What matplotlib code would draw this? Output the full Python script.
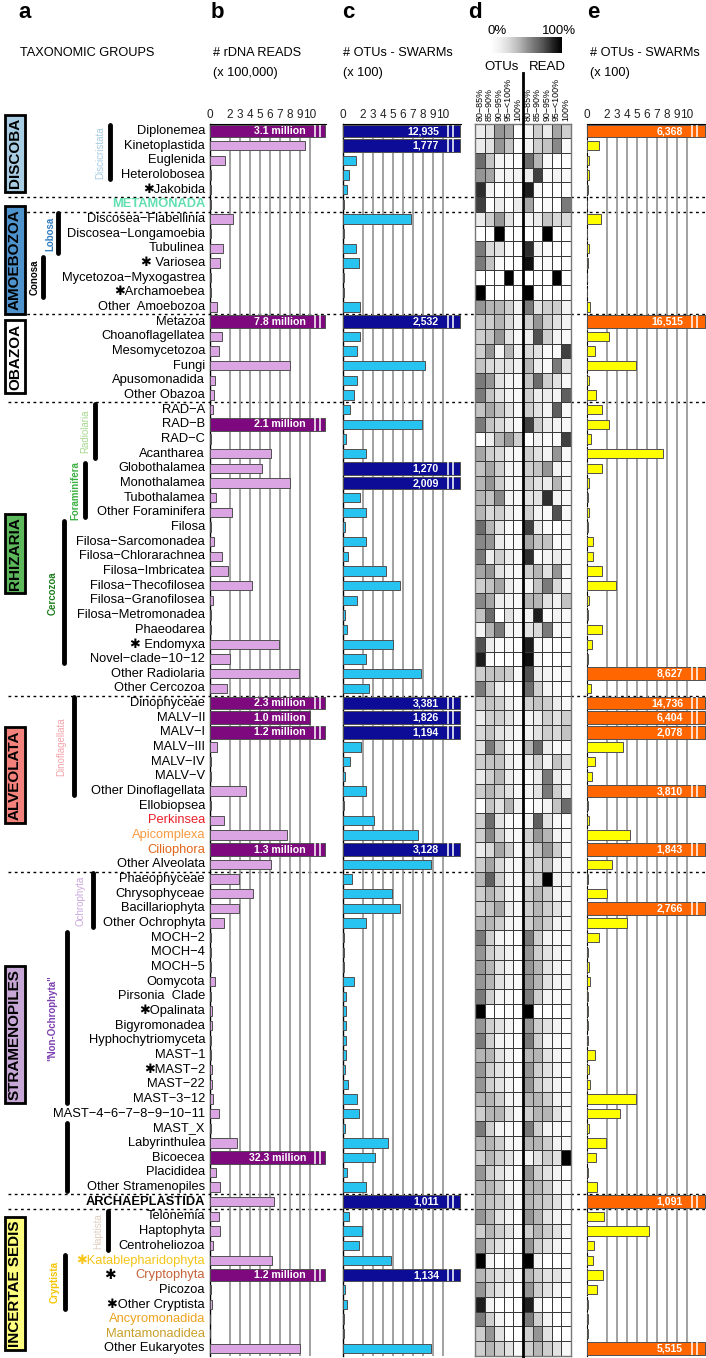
import matplotlib.pyplot as plt
import matplotlib.transforms as mtransforms
from matplotlib.lines import Line2D
import numpy as np

plt.rcParams['font.family'] = ['Liberation Sans', 'DejaVu Sans']

W, H = 706, 1358

# ---------------- data ----------------
taxa = ["Diplonemea", "Kinetoplastida", "Euglenida", "Heterolobosea", "✱Jakobida",
        "METAMONADA",
        "Discosea−Flabellinia", "Discosea−Longamoebia", "Tubulinea", "✱ Variosea",
        "Mycetozoa−Myxogastrea", "✱Archamoebea", "Other  Amoebozoa",
        "Metazoa", "Choanoflagellatea", "Mesomycetozoa", "Fungi", "Apusomonadida", "Other Obazoa",
        "RAD−A", "RAD−B", "RAD−C", "Acantharea", "Globothalamea", "Monothalamea", "Tubothalamea",
        "Other Foraminifera", "Filosa", "Filosa−Sarcomonadea", "Filosa−Chlorarachnea",
        "Filosa−Imbricatea", "Filosa−Thecofilosea", "Filosa−Granofilosea", "Filosa−Metromonadea",
        "Phaeodarea", "✱ Endomyxa", "Novel−clade−10−12", "Other Radiolaria", "Other Cercozoa",
        "Dinophyceae", "MALV−II", "MALV−I", "MALV−III", "MALV−IV", "MALV−V",
        "Other Dinoflagellata", "Ellobiopsea", "Perkinsea", "Apicomplexa", "Ciliophora",
        "Other Alveolata",
        "Phaeophyceae", "Chrysophyceae", "Bacillariophyta", "Other Ochrophyta", "MOCH−2",
        "MOCH−4", "MOCH−5", "Oomycota", "Pirsonia  Clade", "✱Opalinata", "Bigyromonadea",
        "Hyphochytriomyceta", "MAST−1", "✱MAST−2", "MAST−22", "MAST−3−12",
        "MAST−4−6−7−8−9−10−11", "MAST_X", "Labyrinthulea", "Bicoecea", "Placididea",
        "Other Stramenopiles",
        "ARCHAEPLASTIDA",
        "Telonemia", "Haptophyta", "Centroheliozoa", "✱Katablepharidophyta", "Cryptophyta",
        "Picozoa", "✱Other Cryptista", "Ancyromonadida", "Mantamonadidea", "Other Eukaryotes"]

# b: rDNA reads (x 100,000)
reads = [31.0, 9.5, 1.5, 0.1, 0.1, 0.1, 2.3, 0.1, 1.3, 1.0, 0.1, 0.1, 0.7,
         78.0, 1.2, 0.9, 8.0, 0.5, 0.4,
         0.3, 21.0, 0.1, 6.1, 5.2, 8.0, 0.6, 2.2, 0.1, 0.4, 1.2, 1.8, 4.2, 0.3, 0.1, 0.1,
         6.9, 2.0, 8.9, 1.7,
         23.0, 10.0, 12.0, 0.7, 0.1, 0.1, 3.6, 0.1, 1.4, 7.7, 13.0, 6.1,
         2.9, 4.3, 2.9, 1.4, 0.1, 0.1, 0.1, 0.5, 0.1, 0.25, 0.25, 0.15, 0.1, 0.25, 0.2,
         0.35, 0.9, 0.1, 2.7, 323.0, 0.65, 1.05,
         6.4,
         0.9, 1.0, 0.3, 6.2, 12.0, 0.1, 0.2, 0.05, 0.05, 9.0]

# c: OTUs - SWARMs (x 100)
otus_c = [129.35, 17.77, 1.3, 0.6, 0.4, 0.1, 6.8, 0.05, 1.3, 1.6, 0.05, 0.05, 1.7,
          25.32, 1.7, 1.4, 8.2, 1.4, 1.1,
          0.7, 7.9, 0.3, 2.3, 12.70, 20.09, 1.7, 2.3, 0.2, 2.3, 0.5, 4.3, 5.7, 1.4, 0.2, 0.4,
          5.0, 2.3, 7.8, 2.6,
          33.81, 18.26, 11.94, 1.8, 0.7, 0.2, 2.3, 0.1, 3.1, 7.5, 31.28, 8.8,
          0.9, 4.9, 5.7, 2.3, 0.1, 0.1, 0.1, 1.1, 0.3, 0.3, 0.3, 0.3, 0.3, 0.2, 0.5,
          1.4, 1.6, 0.2, 4.5, 3.2, 0.4, 2.3,
          10.11,
          0.6, 1.9, 1.6, 4.8, 11.34, 0.2, 0.4, 0.1, 0.1, 8.8]

# e: OTUs - SWARMs (x 100)
otus_e = [63.68, 1.2, 0.2, 0.2, 0.05, 0.0, 1.4, 0.0, 0.2, 0.05, 0.0, 0.0, 0.3,
          165.15, 2.2, 0.8, 4.9, 0.2, 0.9,
          1.5, 2.2, 0.4, 7.6, 1.5, 0.2, 0.05, 0.2, 0.05, 0.6, 0.6, 1.5, 2.9, 0.2, 0.05, 1.5,
          0.5, 0.05, 86.27, 0.4,
          147.36, 64.04, 20.78, 3.6, 0.8, 0.5, 38.10, 0.05, 0.2, 4.3, 18.43, 2.5,
          0.1, 2.0, 27.66, 4.0, 1.2, 0.1, 0.2, 0.3, 0.05, 0.05, 0.05, 0.05, 0.8, 0.2, 0.3,
          4.9, 3.3, 0.2, 1.9, 0.9, 0.1, 1.0,
          10.91,
          1.7, 6.2, 0.7, 0.6, 1.6, 1.0, 0.1, 0.05, 0.05, 55.15]

# d: share of OTUs / reads per identity bin (0-1)
id_bins = ["80−85%", "85−90%", "90−95%", "95−<100%", "100%"]
otu_share = [
    [0.15, 0.2, 0.5, 0.45, 0.0], [0.15, 0.2, 0.5, 0.35, 0.0], [0.65, 0.35, 0.1, 0.05, 0.0],
    [0.5, 0.45, 0.1, 0.1, 0.1], [0.85, 0.1, 0.0, 0.05, 0.0], [0.8, 0.0, 0.15, 0.0, 0.15],
    [0.15, 0.3, 0.5, 0.2, 0.0], [0.0, 0.0, 1.0, 0.0, 0.0], [0.6, 0.25, 0.2, 0.05, 0.0],
    [0.6, 0.35, 0.05, 0.0, 0.0], [0.0, 0.0, 0.0, 1.0, 0.0], [1.0, 0.0, 0.0, 0.0, 0.0],
    [0.5, 0.4, 0.4, 0.3, 0.1],
    [0.35, 0.3, 0.4, 0.25, 0.1], [0.3, 0.35, 0.5, 0.2, 0.05], [0.3, 0.5, 0.1, 0.4, 0.1],
    [0.35, 0.25, 0.2, 0.2, 0.1], [0.6, 0.5, 0.2, 0.1, 0.05], [0.6, 0.35, 0.2, 0.1, 0.05],
    [0.35, 0.45, 0.35, 0.2, 0.05], [0.6, 0.35, 0.25, 0.15, 0.05], [0.0, 0.15, 0.4, 0.5, 0.3],
    [0.45, 0.3, 0.25, 0.1, 0.05], [0.35, 0.45, 0.3, 0.1, 0.05], [0.4, 0.5, 0.3, 0.1, 0.05],
    [0.4, 0.35, 0.55, 0.1, 0.05], [0.4, 0.25, 0.3, 0.15, 0.05], [0.65, 0.4, 0.2, 0.05, 0.0],
    [0.55, 0.5, 0.15, 0.05, 0.05], [0.6, 0.15, 0.3, 0.15, 0.05], [0.45, 0.5, 0.2, 0.1, 0.05],
    [0.3, 0.35, 0.45, 0.15, 0.05], [0.55, 0.45, 0.15, 0.1, 0.05], [0.35, 0.65, 0.0, 0.2, 0.05],
    [0.1, 0.4, 0.6, 0.1, 0.05], [0.75, 0.15, 0.05, 0.05, 0.0], [0.9, 0.05, 0.0, 0.0, 0.0],
    [0.3, 0.35, 0.35, 0.3, 0.05], [0.6, 0.35, 0.15, 0.05, 0.0],
    [0.3, 0.35, 0.3, 0.15, 0.05], [0.15, 0.3, 0.3, 0.2, 0.05], [0.25, 0.35, 0.2, 0.15, 0.05],
    [0.2, 0.6, 0.35, 0.1, 0.05], [0.3, 0.35, 0.35, 0.15, 0.05], [0.15, 0.3, 0.4, 0.15, 0.05],
    [0.3, 0.4, 0.3, 0.2, 0.05], [0.0, 0.35, 0.2, 0.4, 0.1], [0.3, 0.65, 0.2, 0.05, 0.0],
    [0.3, 0.55, 0.3, 0.1, 0.05], [0.15, 0.25, 0.45, 0.3, 0.05], [0.3, 0.45, 0.25, 0.1, 0.05],
    [0.4, 0.7, 0.3, 0.1, 0.05], [0.3, 0.4, 0.3, 0.1, 0.05], [0.3, 0.35, 0.45, 0.15, 0.05],
    [0.4, 0.4, 0.3, 0.1, 0.05], [0.6, 0.3, 0.1, 0.05, 0.0], [0.5, 0.3, 0.2, 0.1, 0.0],
    [0.5, 0.4, 0.2, 0.1, 0.0], [0.5, 0.4, 0.2, 0.1, 0.05], [0.6, 0.3, 0.1, 0.05, 0.0],
    [1.0, 0.0, 0.0, 0.0, 0.0], [0.5, 0.3, 0.2, 0.1, 0.0], [0.6, 0.3, 0.1, 0.05, 0.0],
    [0.4, 0.4, 0.2, 0.1, 0.0], [0.5, 0.3, 0.2, 0.1, 0.0], [0.5, 0.3, 0.2, 0.1, 0.0],
    [0.4, 0.4, 0.3, 0.1, 0.05], [0.3, 0.4, 0.4, 0.2, 0.05], [0.6, 0.3, 0.1, 0.05, 0.0],
    [0.4, 0.4, 0.3, 0.1, 0.05], [0.3, 0.4, 0.3, 0.2, 0.05], [0.5, 0.3, 0.2, 0.1, 0.0],
    [0.4, 0.4, 0.3, 0.1, 0.05],
    [0.4, 0.35, 0.3, 0.2, 0.05],
    [0.5, 0.4, 0.2, 0.1, 0.0], [0.3, 0.4, 0.3, 0.2, 0.05], [0.5, 0.3, 0.2, 0.1, 0.0],
    [1.0, 0.1, 0.0, 0.0, 0.0], [0.4, 0.3, 0.2, 0.2, 0.05], [0.5, 0.3, 0.2, 0.1, 0.0],
    [0.9, 0.1, 0.0, 0.0, 0.0], [0.6, 0.3, 0.1, 0.0, 0.0], [0.3, 0.5, 0.2, 0.0, 0.0],
    [0.3, 0.4, 0.3, 0.2, 0.05]]
read_share = [
    [0.1, 0.3, 0.15, 0.45, 0.3], [0.1, 0.3, 0.35, 0.55, 0.05], [0.65, 0.4, 0.05, 0.0, 0.0],
    [0.15, 0.8, 0.05, 0.1, 0.05], [0.9, 0.05, 0.0, 0.0, 0.0], [0.45, 0.0, 0.05, 0.0, 0.6],
    [0.1, 0.15, 0.35, 0.25, 0.25], [0.0, 0.0, 1.0, 0.0, 0.0], [0.85, 0.1, 0.05, 0.0, 0.0],
    [0.95, 0.05, 0.05, 0.0, 0.0], [0.0, 0.0, 0.0, 1.0, 0.0], [1.0, 0.0, 0.0, 0.0, 0.0],
    [0.6, 0.2, 0.3, 0.3, 0.1],
    [0.3, 0.5, 0.3, 0.2, 0.1], [0.15, 0.75, 0.3, 0.1, 0.05], [0.25, 0.2, 0.05, 0.05, 0.8],
    [0.4, 0.15, 0.05, 0.6, 0.2], [0.35, 0.65, 0.3, 0.2, 0.05], [0.3, 0.15, 0.15, 0.1, 0.7],
    [0.3, 0.2, 0.1, 0.7, 0.05], [0.8, 0.3, 0.15, 0.1, 0.05], [0.0, 0.1, 0.05, 0.05, 0.8],
    [0.3, 0.2, 0.1, 0.5, 0.05], [0.3, 0.35, 0.5, 0.1, 0.05], [0.3, 0.2, 0.15, 0.4, 0.05],
    [0.2, 0.2, 0.85, 0.1, 0.05], [0.3, 0.1, 0.05, 0.75, 0.05], [0.8, 0.15, 0.05, 0.0, 0.05],
    [0.45, 0.35, 0.35, 0.05, 0.05], [0.85, 0.05, 0.1, 0.15, 0.05], [0.3, 0.4, 0.2, 0.5, 0.05],
    [0.1, 0.35, 0.6, 0.25, 0.05], [0.4, 0.4, 0.2, 0.1, 0.35], [0.1, 0.9, 0.05, 0.1, 0.05],
    [0.2, 0.25, 0.6, 0.05, 0.05], [0.9, 0.05, 0.05, 0.0, 0.0], [0.95, 0.05, 0.0, 0.0, 0.0],
    [0.75, 0.15, 0.1, 0.05, 0.05], [0.65, 0.3, 0.1, 0.05, 0.0],
    [0.3, 0.35, 0.3, 0.15, 0.05], [0.1, 0.15, 0.3, 0.2, 0.3], [0.1, 0.2, 0.3, 0.25, 0.35],
    [0.4, 0.65, 0.15, 0.05, 0.05], [0.15, 0.3, 0.1, 0.35, 0.2], [0.05, 0.15, 0.6, 0.15, 0.05],
    [0.1, 0.2, 0.6, 0.3, 0.1], [0.0, 0.05, 0.1, 0.35, 0.65], [0.1, 0.7, 0.2, 0.05, 0.0],
    [0.3, 0.5, 0.4, 0.1, 0.05], [0.2, 0.35, 0.5, 0.3, 0.05], [0.3, 0.25, 0.35, 0.1, 0.05],
    [0.2, 0.3, 1.0, 0.1, 0.05], [0.3, 0.4, 0.3, 0.1, 0.05], [0.3, 0.4, 0.3, 0.2, 0.05],
    [0.3, 0.4, 0.3, 0.1, 0.05], [0.6, 0.3, 0.1, 0.05, 0.0], [0.5, 0.3, 0.2, 0.1, 0.0],
    [0.5, 0.4, 0.2, 0.1, 0.0], [0.5, 0.4, 0.2, 0.1, 0.05], [0.6, 0.3, 0.1, 0.05, 0.0],
    [1.0, 0.0, 0.0, 0.0, 0.0], [0.5, 0.3, 0.2, 0.1, 0.0], [0.6, 0.3, 0.1, 0.05, 0.0],
    [0.4, 0.4, 0.2, 0.1, 0.0], [0.5, 0.3, 0.2, 0.1, 0.0], [0.5, 0.3, 0.2, 0.1, 0.0],
    [0.4, 0.4, 0.3, 0.1, 0.05], [0.3, 0.4, 0.4, 0.2, 0.05], [0.6, 0.3, 0.1, 0.05, 0.0],
    [0.4, 0.4, 0.3, 0.1, 0.05], [0.1, 0.2, 0.3, 0.2, 1.0], [0.5, 0.3, 0.2, 0.1, 0.0],
    [0.4, 0.4, 0.3, 0.1, 0.05],
    [0.4, 0.35, 0.3, 0.2, 0.05],
    [0.5, 0.4, 0.2, 0.1, 0.0], [0.3, 0.4, 0.3, 0.2, 0.05], [0.5, 0.3, 0.2, 0.1, 0.0],
    [1.0, 0.1, 0.0, 0.0, 0.0], [0.4, 0.3, 0.2, 0.2, 0.05], [0.5, 0.3, 0.2, 0.1, 0.0],
    [0.9, 0.1, 0.0, 0.0, 0.0], [0.6, 0.3, 0.1, 0.0, 0.0], [0.3, 0.5, 0.2, 0.0, 0.0],
    [0.3, 0.4, 0.3, 0.2, 0.05]]

# supergroup boxes: name, fill, centre row
supergroups = [("DISCOBA", "#a9cde3", 1.5), ("AMOEBOZOA", "#4f93cc", 8.8),
               ("OBAZOA", "white", 15.4), ("RHIZARIA", "#5cb85a", 28.8),
               ("ALVEOLATA", "#f4827c", 43.9), ("STRAMENOPILES", "#c7a7d6", 61.6),
               ("INCERTAE SEDIS", "#ffff80", 78.6)]
# sub-groups: name, colour, first row, last row, bar x (px), text x (px), bold
subgroups = [("Discicristata", "#a6cbe3", 0, 3, 110, 100, False),
             ("Lobosa", "#2f7fc1", 6, 8, 58, 50, True),
             ("Conosa", "black", 9, 11, 43, 35, True),
             ("Radiolaria", "#a8d88f", 19, 22, 95, 85, False),
             ("Foraminifera", "#3cb043", 23, 26, 85, 75, True),
             ("Cercozoa", "#1e7d1e", 27, 36, 64, 53, True),
             ("Dinoflagellata", "#f5a3ab", 39, 45, 74, 61, False),
             ("Ochrophyta", "#c9a7dc", 51, 54, 93, 80, False),
             ('"Non-Ochrophyta"', "#7b3fb0", 55, 66, 67, 52, True),
             ("", "black", 68, 72, 67, 52, False),
             ("Haptista", "#e0cfc0", 74, 76, 108, 98, False),
             ("Cryptista", "#f5c400", 77, 80, 65, 55, True)]
label_colors = {"METAMONADA": "#62e0b0", "Perkinsea": "#e8202a", "Apicomplexa": "#f89a40",
                "Ciliophora": "#e2661a", "✱Katablepharidophyta": "#f5c518",
                "Cryptophyta": "#c4623a", "Ancyromonadida": "#eea21e",
                "Mantamonadidea": "#c8a02a"}
bold_labels = ["METAMONADA", "ARCHAEPLASTIDA"]
separators = [4.5, 5.5, 12.5, 18.5, 38.5, 50.5, 72.5, 73.5]

# ---------------- figure ----------------
fig = plt.figure(figsize=(W / 100, H / 100), dpi=100)

def fx(p):
    return p / W

def fy(p):
    return 1 - p / H

top_px, bot_px = 123.7, 1355.7
ybot, yh = fy(bot_px), (bot_px - top_px) / H
rows = np.arange(len(taxa))


def bar_panel(x0, width_px, xmax, vals, c_norm, c_big, fmt, left_line=True):
    ax = fig.add_axes([fx(x0), ybot, fx(width_px), yh])
    vals = np.asarray(vals, float)
    big = vals > 10.05
    shown = np.where(big, xmax - 0.1, vals)
    heights = np.where(vals >= 10, 0.86, 0.62)
    colors = np.where(vals >= 10, c_big, c_norm)
    ax.barh(rows, shown, height=heights, color=colors, edgecolor='#505050', lw=0.7, zorder=3)
    for r in rows[vals >= 10]:
        ax.text(9.6, r, fmt(vals[r]), ha='right', va='center', color='white',
                fontsize=7.6, fontweight='bold', zorder=5)
    for r in rows[big]:
        ax.vlines([10.45, 10.95], r - 0.43, r + 0.43, color='white', lw=1.1, zorder=4)
    ax.set_xlim(0, xmax)
    ax.set_ylim(len(taxa) - 0.5, -0.5)
    ax.set_yticks([])
    ax.set_xticks([0, 2, 3, 4, 5, 6, 7, 8, 9, 10])
    ax.xaxis.tick_top()
    ax.tick_params(axis='x', direction='in', length=4, width=0.8, pad=2,
                   labelsize=8.5, colors='#222')
    ax.xaxis.grid(True, color='#9a9a9a', lw=1.3, zorder=0)
    ax.set_axisbelow(True)
    for s in ['right', 'bottom']:
        ax.spines[s].set_visible(False)
    ax.spines['top'].set_linewidth(0.8)
    ax.spines['left'].set_linewidth(1.0)
    if not left_line:
        ax.spines['left'].set_linestyle((0, (3, 2)))
        ax.spines['left'].set_linewidth(0.8)
    ax.patch.set_alpha(0)
    return ax


ax_b = bar_panel(210, 116, 11.6, reads, '#dba5e3', '#7e087e',
                 lambda v: f"{v / 10:.1f} million")
ax_c = bar_panel(343, 118, 11.8, otus_c, '#27c4f2', '#0c0c96',
                 lambda v: f"{round(v * 100):,}")
ax_e = bar_panel(587, 119, 11.9, otus_e, '#ffff00', '#ff6600',
                 lambda v: f"{round(v * 100):,}", left_line=False)

# heatmap
ax_d = fig.add_axes([fx(475), ybot, fx(96), yh])
mat = np.hstack([np.asarray(otu_share), np.asarray(read_share)])
ax_d.pcolormesh(np.arange(11), np.arange(len(taxa) + 1) - 0.5, mat, cmap='Greys',
                vmin=0, vmax=1, edgecolors='#3a3a3a', linewidth=0.5)
ax_d.set_xlim(0, 10)
ax_d.set_ylim(len(taxa) - 0.5, -0.5)
ax_d.set_xticks([])
ax_d.set_yticks([])
for s in ax_d.spines.values():
    s.set_color('#777')
    s.set_linewidth(1.0)
for i, lab in enumerate(id_bins + id_bins):
    ax_d.text(i + 0.5, -0.7, lab, rotation=90, ha='center', va='bottom', fontsize=6.4,
              linespacing=0.9)
fig.add_artist(Line2D([fx(523), fx(523)], [fy(73), 0], color='black', lw=2))

# gradient key
ax_k = fig.add_axes([fx(491), fy(53), fx(71), 16 / H])
ax_k.imshow(np.linspace(0, 1, 64)[None, :], cmap='Greys', aspect='auto', vmin=0, vmax=1)
ax_k.axis('off')
fig.text(fx(497), fy(31), "0%", ha='center', va='center', fontsize=9.5)
fig.text(fx(559), fy(31), "100%", ha='center', va='center', fontsize=9.5)
fig.text(fx(502), fy(67), "OTUs", ha='center', va='center', fontsize=9.5)
fig.text(fx(547), fy(67), "READ", ha='center', va='center', fontsize=9.5)

# headers
for lab, x in [("a", 25), ("b", 217), ("c", 348), ("d", 475), ("e", 593)]:
    fig.text(fx(x), fy(12), lab, ha='center', va='center', fontsize=16, fontweight='bold')
hdr = dict(ha='left', va='center', fontsize=9.2)
fig.text(fx(20), fy(53), "TAXONOMIC GROUPS", **hdr)
fig.text(fx(213), fy(53), "# rDNA READS", **hdr)
fig.text(fx(213), fy(73), "(x 100,000)", **hdr)
fig.text(fx(343), fy(53), "# OTUs - SWARMs", **hdr)
fig.text(fx(343), fy(73), "(x 100)", **hdr)
fig.text(fx(590), fy(53), "# OTUs - SWARMs", **hdr)
fig.text(fx(590), fy(73), "(x 100)", **hdr)

# row labels
tr = mtransforms.blended_transform_factory(fig.transFigure, ax_b.transData)
for r, name in enumerate(taxa):
    fig.text(fx(205), r, name, transform=tr, ha='right', va='center', fontsize=9.3,
             color=label_colors.get(name, 'black'),
             fontweight='bold' if name in bold_labels else 'normal')
fig.text(fx(110), taxa.index("Cryptophyta"), "✱", transform=tr, ha='center',
         va='center', fontsize=10)

# supergroup boxes
for name, col, rc in supergroups:
    fig.text(fx(15), rc, name, transform=tr, rotation=90, ha='center', va='center',
             fontsize=11, fontweight='bold',
             bbox=dict(boxstyle='square,pad=0.22', fc=col, ec='black', lw=2))

# subgroup bars
for name, col, r0, r1, bx, tx, bold in subgroups:
    fig.add_artist(Line2D([fx(bx), fx(bx)], [r0 - 0.4, r1 + 0.3], transform=tr,
                          color='black', lw=3.5, solid_capstyle='round'))
    if name:
        fig.text(fx(tx), (r0 + r1) / 2, name, transform=tr, rotation=90, ha='center',
                 va='center', fontsize=7, color=col,
                 fontweight='bold' if bold else 'normal')

# dashed separators (behind the panels)
for y in separators:
    fig.add_artist(Line2D([fx(8), 1], [y, y], transform=tr, color='black', lw=1,
                          linestyle=(0, (2, 2.5)), zorder=-1))

fig.savefig("out.png", dpi=100)
